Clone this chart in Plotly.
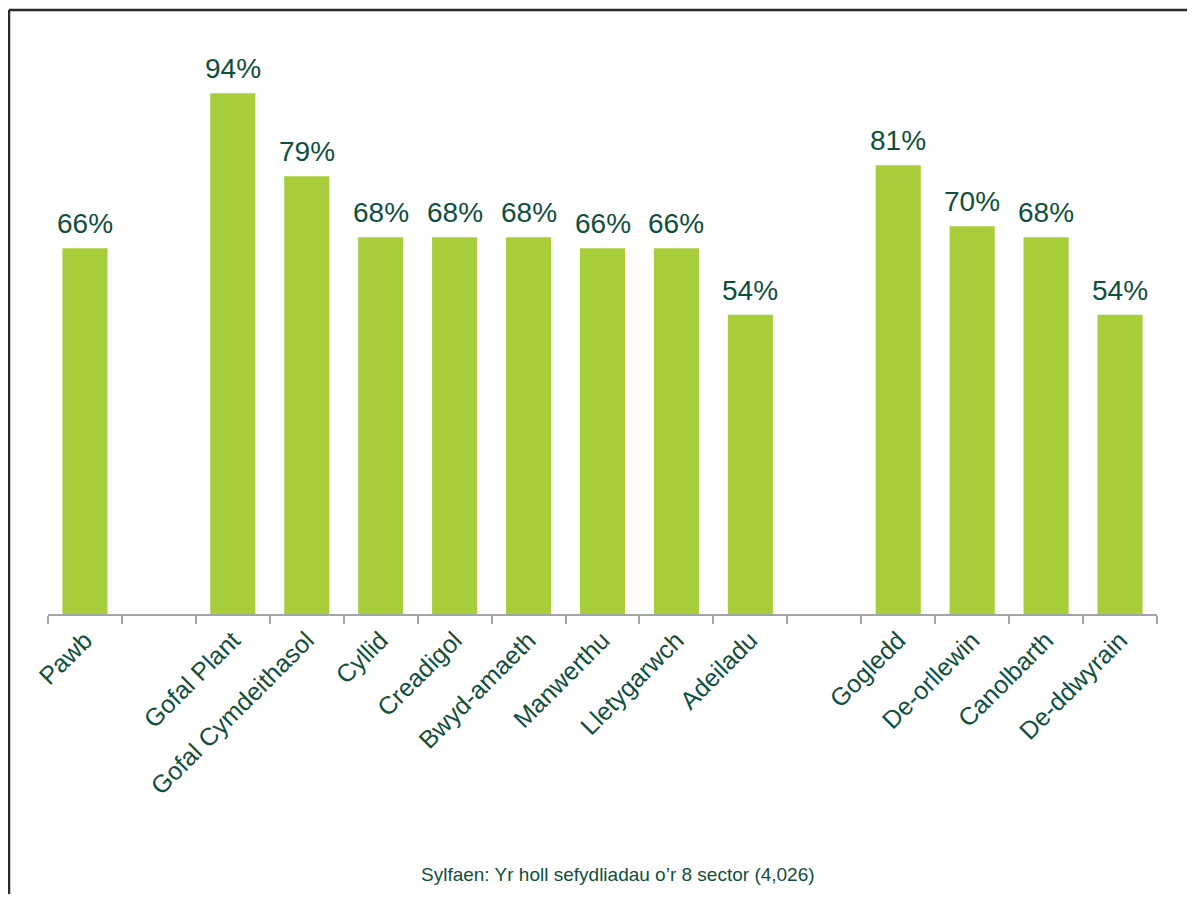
import plotly.graph_objects as go

categories = ["Pawb", " ", "Gofal Plant", "Gofal Cymdeithasol", "Cyllid", "Creadigol",
              "Bwyd-amaeth", "Manwerthu", "Lletygarwch", "Adeiladu", "  ",
              "Gogledd", "De-orllewin", "Canolbarth", "De-ddwyrain"]
values = [66, None, 94, 79, 68, 68, 68, 66, 66, 54, None, 81, 70, 68, 54]
labels = [f"{v}%" if v is not None else "" for v in values]
source_note = "Sylfaen: Yr holl sefydliadau o\u2019r 8 sector (4,026)"

GREEN = "#A7CE3A"
DARK = "#0F4F3C"
FONT = "Liberation Sans, Arial"

# page body has an 8px margin; figure sized/offset to compensate
W, H = 1187, 886
L, R, T, B = 40, 38, 52, 280
pw, ph = W - L - R, H - T - B

def px_x(x):
    return (x - L) / pw

def px_y(y):
    return (H - B - y) / ph

fig = go.Figure(go.Bar(
    x=categories, y=values,
    marker=dict(color=GREEN, line=dict(width=0)),
    cliponaxis=False, hoverinfo="skip",
))

value_annotations = [
    dict(x=c, y=v, text=t, xref="x", yref="y", showarrow=False,
         xanchor="center", yanchor="bottom", yshift=7,
         font=dict(size=28, color=DARK, family=FONT))
    for c, v, t in zip(categories, values, labels) if v is not None
]

fig.update_layout(
    width=W, height=H,
    margin=dict(l=L, r=R, t=T, b=B),
    paper_bgcolor="white", plot_bgcolor="white",
    bargap=0.39, showlegend=False,
    font=dict(family=FONT, color=DARK),
    xaxis=dict(
        type="category", tickangle=-45, tickson="boundaries",
        ticks="outside", ticklen=8, tickcolor="#A0A5A5", tickwidth=1.5,
        showline=True, linecolor="#A0A5A5", linewidth=1.5,
        tickfont=dict(size=25, color=DARK, family=FONT), showgrid=False,
    ),
    yaxis=dict(range=[0, 100], visible=False, showgrid=False),
    shapes=[
        dict(type="line", xref="paper", yref="paper",
             x0=px_x(1), x1=px_x(W + 5), y0=px_y(2), y1=px_y(2),
             line=dict(color="#2a2a2a", width=2.5)),
        dict(type="line", xref="paper", yref="paper",
             x0=px_x(1), x1=px_x(1), y0=px_y(2), y1=px_y(H + 5),
             line=dict(color="#2a2a2a", width=2.5)),
    ],
    annotations=value_annotations + [dict(
        text=source_note, xref="paper", yref="paper",
        x=px_x(610), y=px_y(866), showarrow=False, xanchor="center", yanchor="middle",
        font=dict(size=19, color=DARK, family=FONT),
    )],
)

fig.write_html("out.html")
